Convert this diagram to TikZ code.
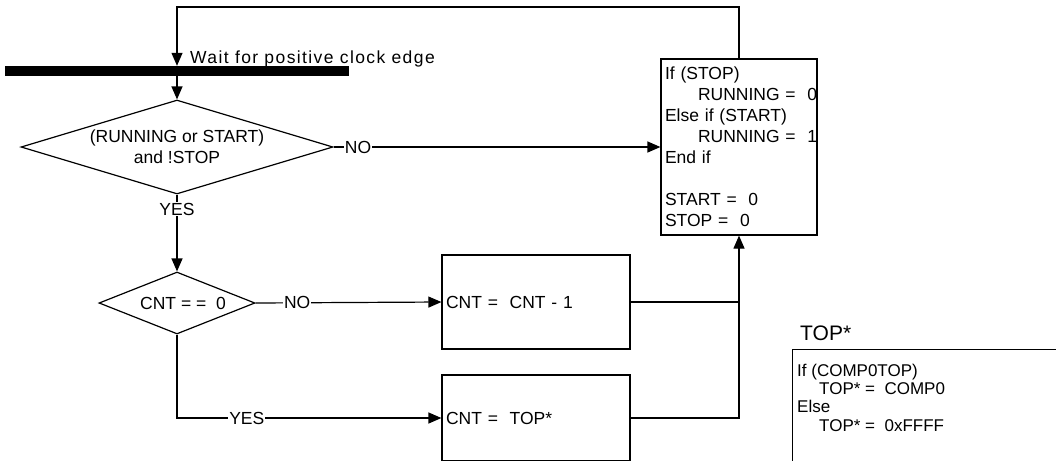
\documentclass[tikz,border=0pt]{standalone}
\usepackage{fontspec}
\setmainfont{Liberation Sans}
\usetikzlibrary{arrows.meta,shapes.geometric}
\begin{document}
\begin{tikzpicture}[x=1pt,y=-1pt,
  every node/.style={font=\fontsize{17.5}{21}\selectfont},
  ln/.style={line width=1.2pt},
  arr/.style={ln,-{Triangle[length=13pt,width=11pt]}},
  procbox/.style={draw,line width=1.2pt,rectangle,inner xsep=4pt,inner ysep=0pt,align=left},
  decide/.style={draw,line width=1.2pt,diamond,inner sep=0pt,align=center},
  lbl/.style={fill=white,inner sep=1pt},
]
\useasboundingbox (0,0) rectangle (1056,461);
\clip (0,0) rectangle (1056,460.2);

% clock bar
\node[fill=black,minimum width=344pt,minimum height=10pt,inner sep=0pt] (bar) at (177,71) {};
\node[anchor=base west,inner sep=0pt] (wait) at (190,63) {\addfontfeature{LetterSpace=8}Wait for positive clock edge};

% decisions
\node[decide,aspect=3.3,minimum width=312pt,minimum height=94pt] (d1) at (177,147) {(RUNNING or START)\\and !STOP};
\node[decide,aspect=2.52,minimum width=156pt,minimum height=62pt] (d2) at (177,303) {\hspace*{12pt}CNT = =~ 0};

% process boxes
\node[procbox,text width=148pt,minimum height=176pt] (b2) at (739,147)
  {If (STOP)\\\hspace*{33pt}\rlap{RUNNING =~ 0}\\Else if (START)\\\hspace*{33pt}\rlap{RUNNING =~ 1}\\End if\\[21pt]START =~ 0\\STOP =~ 0};
\node[procbox,text width=180pt,minimum height=94pt] (b3) at (536,302) {CNT =~ CNT - 1};
\node[procbox,text width=180pt,minimum height=86pt] (b4) at (536,418) {CNT =~ TOP*};

% TOP* definition
\node[anchor=west,inner sep=0pt,font=\fontsize{21}{25}\selectfont] (toptitle) at (800,333) {TOP*};
\node[draw,line width=1.2pt,anchor=north west,minimum width=300pt,minimum height=150pt,inner sep=0pt] (topbox) at (792,349) {};
\node[anchor=west,align=left,inner sep=0pt,font=\fontsize{17}{18.3}\selectfont] (topcode) at (797,397.5)
  {If (COMP0TOP)\\\hspace*{22pt}TOP* =~ COMP0\\Else\\\hspace*{22pt}TOP* =~ 0xFFFF};

% connectors
\coordinate (top) at (177,7);
\draw[arr] (b2.north) |- (top) -- (bar.north);
\draw[arr] (bar.south) -- (d1.north);
\draw[arr] (d1.east) -- node[lbl,pos=0.075] (no1) {NO} (b2.west);
\draw[arr] (d1.south) -- node[lbl,pos=0.19] (yes1) {YES} (d2.north);
\draw[arr] (d2.east) -- node[lbl,pos=0.224] (no2) {NO} (b3.west);
\draw[arr] (d2.south) |- node[lbl,pos=0.632] (yes2) {YES} (b4.west);
\coordinate (j) at (b2.south |- b3.east);
\draw[ln] (b3.east) -- (j);
\draw[arr] (b4.east) -| (b2.south);
\end{tikzpicture}
\end{document}
